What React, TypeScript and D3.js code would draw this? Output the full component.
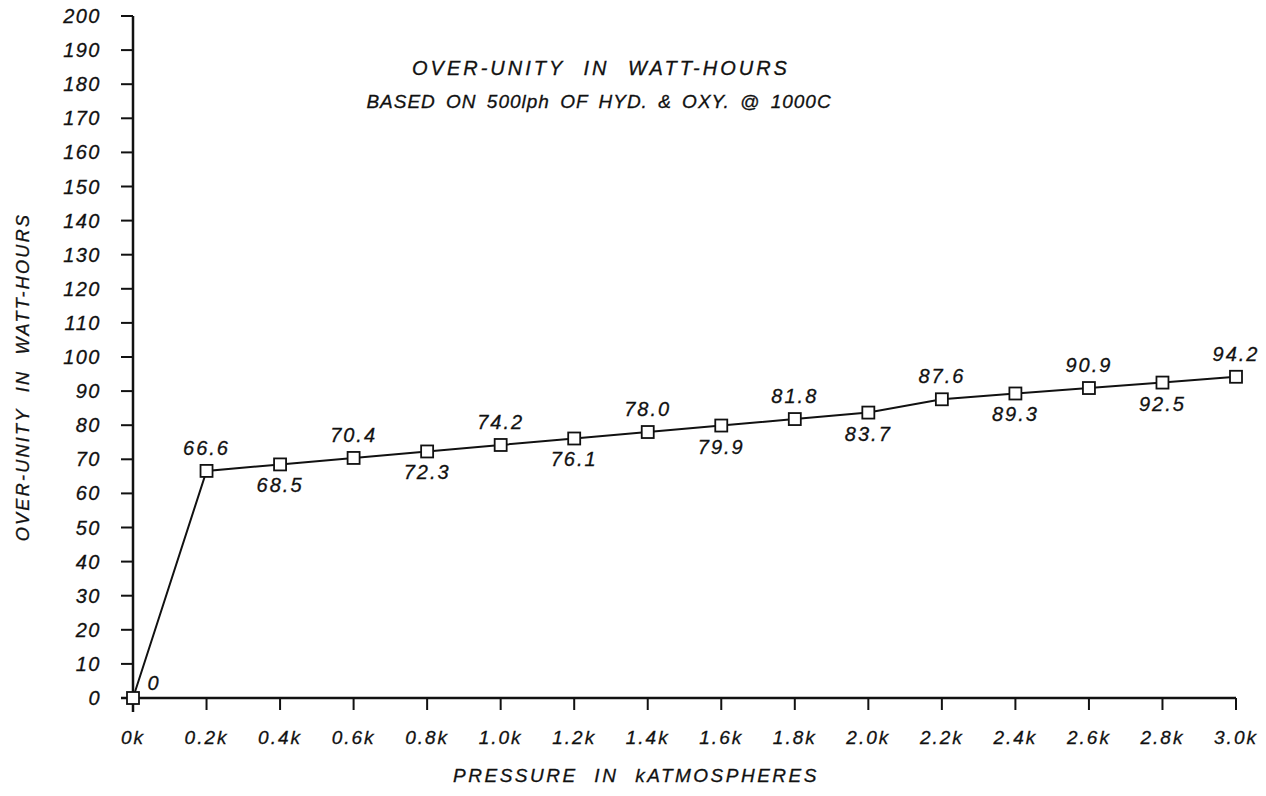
import React from "react";
import * as d3 from "d3";

const pressures = [0, 0.2, 0.4, 0.6, 0.8, 1.0, 1.2, 1.4, 1.6, 1.8, 2.0, 2.2, 2.4, 2.6, 2.8, 3.0];
const values = [0, 66.6, 68.5, 70.4, 72.3, 74.2, 76.1, 78.0, 79.9, 81.8, 83.7, 87.6, 89.3, 90.9, 92.5, 94.2];
const valueLabels = ["0", "66.6", "68.5", "70.4", "72.3", "74.2", "76.1", "78.0", "79.9", "81.8", "83.7", "87.6", "89.3", "90.9", "92.5", "94.2"];
const xTickLabels = ["0k", "0.2k", "0.4k", "0.6k", "0.8k", "1.0k", "1.2k", "1.4k", "1.6k", "1.8k", "2.0k", "2.2k", "2.4k", "2.6k", "2.8k", "3.0k"];
const yTicks = d3.range(0, 201, 10);
const title1 = "OVER-UNITY IN WATT-HOURS";
const title2 = "BASED ON 500lph OF HYD. & OXY. @ 1000C";
const yTitle = "OVER-UNITY IN WATT-HOURS";
const xTitle = "PRESSURE IN kATMOSPHERES";

const W = 1266, H = 796;
const x0 = 133, x1 = 1236, y0 = 698, y1 = 16;
const font = "'Liberation Sans', Arial, sans-serif";

export default function App() {
  const x = d3.scaleLinear().domain([0, 3]).range([x0, x1]);
  const y = d3.scaleLinear().domain([0, 200]).range([y0, y1]);
  const line = d3.line<number>().x((_, i) => x(pressures[i])).y((d) => y(d));
  const txt = { fontFamily: font, fontStyle: "italic" as const, fill: "#111", stroke: "#111", strokeWidth: 0.3 };
  return (
    <svg width={W} height={H} style={{ position: "absolute", left: 0, top: 0, background: "#fff" }}>
      <line x1={x0} y1={y1} x2={x0} y2={y0 + 14} stroke="#111" strokeWidth={2.5} />
      <line x1={x0 - 12} y1={y0} x2={x1} y2={y0} stroke="#111" strokeWidth={2.5} />
      <line x1={x0 - 12} y1={y1} x2={x0} y2={y1} stroke="#111" strokeWidth={2} />
      {yTicks.map((t) => (
        <g key={t}>
          <line x1={x0 - 12} x2={x0} y1={y(t)} y2={y(t)} stroke="#111" strokeWidth={2} />
          <text x={101} y={y(t) + 7} textAnchor="end" fontSize={20} letterSpacing={1.5} {...txt}>
            {t}
          </text>
        </g>
      ))}
      {pressures.map((p, i) => (
        <g key={p}>
          <line x1={x(p)} x2={x(p)} y1={y0} y2={y0 + 12} stroke="#111" strokeWidth={2} />
          <text x={x(p)} y={y0 + 46} textAnchor="middle" fontSize={19} letterSpacing={2} {...txt}>
            {xTickLabels[i]}
          </text>
        </g>
      ))}
      <path d={line(values) || ""} fill="none" stroke="#111" strokeWidth={2} />
      {values.map((v, i) => (
        <rect key={i} x={x(pressures[i]) - 6} y={y(v) - 6} width={12} height={12} fill="#fff" stroke="#111" strokeWidth={1.8} />
      ))}
      {values.map((v, i) => {
        if (i === 0)
          return (
            <text key={i} x={x(0) + 20} y={y(0) - 8} textAnchor="middle" fontSize={20} {...txt}>
              {valueLabels[i]}
            </text>
          );
        const above = i % 2 === 1;
        return (
          <text key={i} x={x(pressures[i])} y={above ? y(v) - 16 : y(v) + 28} textAnchor="middle" fontSize={20} letterSpacing={2} {...txt}>
            {valueLabels[i]}
          </text>
        );
      })}
      <text x={601} y={75} textAnchor="middle" fontSize={20} letterSpacing={3} wordSpacing={10} {...txt}>{title1}</text>
      <text x={599} y={108} textAnchor="middle" fontSize={19} letterSpacing={1} wordSpacing={4} {...txt}>{title2}</text>
      <text x={636} y={782} textAnchor="middle" fontSize={19} letterSpacing={2.5} wordSpacing={9} {...txt}>{xTitle}</text>
      <text transform={`translate(29,${377}) rotate(-90)`} textAnchor="middle" fontSize={18} letterSpacing={2.3} wordSpacing={8} {...txt}>{yTitle}</text>
    </svg>
  );
}
